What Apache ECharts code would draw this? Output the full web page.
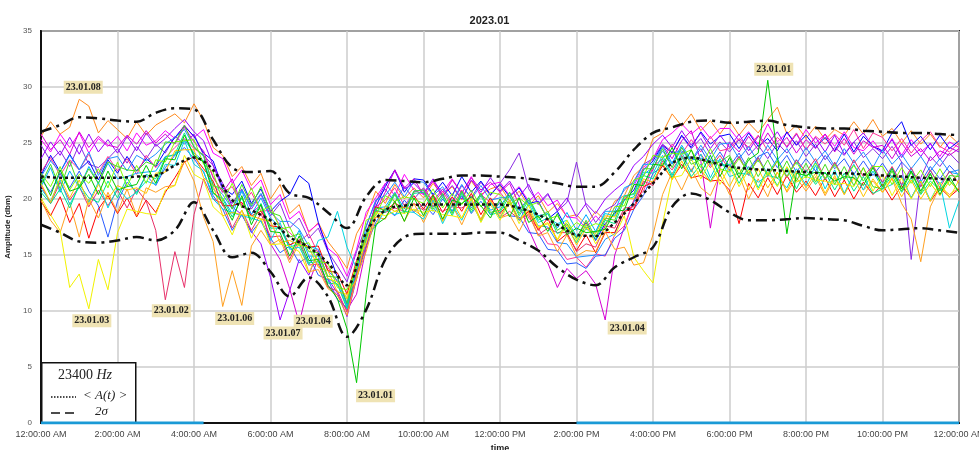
<!DOCTYPE html>
<html>
<head>
<meta charset="utf-8">
<script src="https://cdn.jsdelivr.net/npm/echarts@6/dist/echarts.min.js"></script>
<style>html,body{margin:0;padding:0;background:#fff}#chart{width:979px;height:450px}</style>
</head>
<body>
<div id="chart"></div>
<script>
// sampling grid: every 15 min for the daily traces, every 30 min for the statistics
var hours = [];
for (var i = 0; i <= 96; i++) hours.push(i / 4);
var halfHours = [];
for (var j = 0; j <= 48; j++) halfHours.push(j / 2);

var tickHours = [0, 2, 4, 6, 8, 10, 12, 14, 16, 18, 20, 22, 24];
var tickLabels = ['12:00:00 AM', '2:00:00 AM', '4:00:00 AM', '6:00:00 AM', '8:00:00 AM', '10:00:00 AM',
  '12:00:00 PM', '2:00:00 PM', '4:00:00 PM', '6:00:00 PM', '8:00:00 PM', '10:00:00 PM', '12:00:00 AM'];

// daily amplitude traces (dbm), one row = 2 hours
var d0108 = [
  25.6, 26.9, 25.8, 26.4, 28.9, 28.3, 25.9, 27.0,
  26.2, 25.4, 26.9, 25.7, 26.6, 27.1, 27.6, 26.8,
  28.5, 27.0, 24.6, 23.9, 22.0, 22.9, 21.2, 22.3,
  20.0, 21.3, 18.7, 19.5, 17.0, 17.9, 16.2, 15.1,
  13.8, 16.9, 18.4, 20.7, 19.6, 21.3, 20.0, 21.0,
  20.1, 21.4, 20.3, 21.1, 19.9, 21.6, 20.4, 20.9,
  21.2, 19.8, 20.7, 19.4, 20.3, 18.8, 19.6, 18.4,
  18.6, 17.7, 18.9, 18.1, 19.8, 20.3, 22.1, 22.9,
  25.4, 25.9, 27.6, 26.5, 27.6, 26.1, 27.0, 25.8,
  27.0, 25.7, 26.8, 25.9, 27.1, 28.2, 25.8, 26.6,
  25.4, 26.5, 25.3, 26.2, 25.7, 26.9, 25.8, 27.1,
  25.6, 26.3, 25.0, 26.1, 24.9, 25.8, 24.6, 25.7,
  24.9];
var d0109 = [
  25.3, 24.2, 25.8, 24.6, 25.9, 24.1, 25.4, 24.7,
  25.6, 24.3, 25.9, 24.8, 25.2, 26.1, 25.4, 26.6,
  25.5, 26.2, 24.1, 23.6, 21.4, 22.6, 20.8, 21.7,
  19.5, 20.4, 18.2, 18.9, 17.1, 17.8, 15.6, 14.9,
  13.1, 15.5, 18.8, 20.1, 21.4, 20.3, 22.2, 20.8,
  20.4, 21.6, 20.6, 21.8, 20.5, 22.0, 20.2, 21.3,
  21.5, 20.3, 21.1, 19.8, 20.6, 19.4, 19.9, 18.4,
  18.3, 17.4, 18.5, 17.6, 19.3, 19.9, 21.2, 22.8,
  23.6, 25.3, 25.9, 26.7, 25.8, 26.5, 25.4, 26.3,
  26.3, 25.2, 26.0, 24.9, 26.7, 25.1, 25.9, 24.8,
  26.2, 25.0, 25.8, 24.7, 26.0, 24.6, 24.3, 25.2,
  24.1, 25.4, 23.9, 25.3, 24.2, 24.9, 23.8, 25.1,
  24.6];
var d0110 = [
  24.8, 23.4, 24.3, 22.9, 24.9, 23.1, 22.8, 23.6,
  24.5, 23.2, 24.7, 23.6, 24.9, 24.1, 25.6, 24.9,
  25.8, 23.9, 23.0, 20.8, 19.6, 20.9, 19.1, 20.4,
  18.5, 19.6, 17.4, 18.3, 16.5, 17.4, 15.3, 14.0,
  12.6, 15.3, 17.6, 19.8, 20.9, 19.7, 21.1, 20.0,
  21.0, 19.8, 20.9, 19.6, 21.2, 20.1, 21.5, 20.3,
  21.4, 22.6, 24.1, 20.9, 19.6, 20.5, 18.9, 19.7,
  23.3, 19.4, 17.9, 19.0, 19.5, 20.8, 21.6, 23.1,
  23.6, 24.9, 24.2, 25.6, 24.5, 25.4, 24.0, 25.1,
  24.2, 25.3, 23.9, 24.8, 23.6, 25.0, 24.1, 25.2,
  23.8, 24.9, 23.5, 24.6, 23.9, 25.1, 23.7, 24.5,
  23.6, 24.7, 23.3, 14.6, 21.9, 23.8, 22.9, 24.1,
  23.2];
var d0111 = [
  22.1, 23.9, 22.4, 24.0, 22.6, 23.4, 21.7, 23.5,
  22.3, 23.8, 22.5, 23.6, 22.9, 24.3, 25.5, 26.5,
  25.6, 24.1, 23.4, 21.0, 20.4, 21.6, 19.6, 20.9,
  18.9, 19.8, 20.4, 22.1, 21.4, 17.9, 15.4, 13.0,
  10.6, 13.4, 17.0, 19.3, 21.1, 22.6, 20.6, 21.8,
  21.7, 20.4, 21.5, 20.3, 22.0, 20.6, 21.6, 20.4,
  21.3, 20.2, 21.0, 19.6, 19.8, 18.2, 18.9, 17.3,
  16.6, 17.9, 16.3, 17.8, 18.7, 19.9, 20.8, 22.6,
  23.4, 24.8, 24.1, 25.7, 24.6, 26.0, 24.9, 25.6,
  25.8, 24.5, 25.9, 24.7, 25.4, 24.3, 26.0, 24.8,
  25.7, 24.6, 25.5, 24.3, 25.8, 24.2, 25.6, 24.7,
  24.3, 25.9, 26.9, 24.8, 25.6, 24.4, 25.7, 24.5,
  25.2];
var d0107 = [
  23.6, 25.1, 23.9, 25.5, 24.0, 25.8, 24.2, 25.3,
  24.1, 25.6, 24.3, 25.9, 24.7, 25.4, 26.3, 27.1,
  26.0, 25.2, 23.0, 21.4, 19.3, 18.6, 17.1, 16.0,
  13.0, 9.2, 11.8, 14.6, 13.2, 15.4, 12.9, 11.6,
  9.5, 12.9, 16.4, 19.7, 21.3, 22.5, 20.9, 21.4,
  20.5, 21.8, 20.3, 21.2, 20.0, 21.7, 20.6, 21.9,
  20.7, 21.6, 20.2, 21.3, 19.5, 20.4, 19.0, 20.1,
  18.4, 19.6, 18.7, 20.0, 20.8, 21.5, 23.0, 23.8,
  24.9, 25.7, 24.6, 26.1, 24.8, 25.9, 24.5, 25.7,
  24.6, 25.8, 24.3, 25.6, 24.9, 26.0, 24.6, 25.8,
  24.4, 25.5, 24.2, 25.7, 24.0, 25.1, 25.9, 24.7,
  24.1, 25.3, 23.7, 24.9, 23.8, 25.0, 23.5, 24.6,
  24.2];
var d0104 = [
  25.8, 24.4, 25.3, 24.0, 26.0, 24.6, 25.6, 24.8,
  24.6, 25.7, 24.9, 26.1, 25.0, 25.8, 24.9, 26.4,
  25.1, 24.3, 21.9, 20.6, 21.8, 19.4, 18.7, 19.5,
  16.0, 14.6, 12.0, 8.9, 12.5, 14.7, 12.3, 11.4,
  10.1, 11.5, 15.6, 18.9, 20.6, 22.6, 21.0, 21.8,
  20.4, 21.6, 20.1, 21.7, 20.5, 21.9, 20.8, 21.5,
  20.6, 21.4, 19.5, 17.3, 15.4, 14.3, 12.1, 13.8,
  12.9, 13.6, 12.4, 9.2, 15.0, 17.5, 19.9, 21.4,
  22.6, 24.8, 23.6, 25.2, 26.1, 23.4, 17.4, 22.8,
  25.1, 24.2, 25.6, 24.4, 25.9, 24.6, 25.5, 24.1,
  25.3, 24.5, 25.8, 24.2, 25.4, 24.0, 25.2, 24.6,
  24.8, 23.6, 25.0, 23.8, 24.5, 23.4, 24.3, 23.9,
  24.5];
var d0118 = [
  22.4, 23.7, 22.1, 23.5, 22.6, 24.0, 22.3, 23.8,
  22.5, 23.6, 22.2, 23.9, 22.8, 23.7, 24.6, 25.4,
  24.5, 23.9, 22.0, 20.6, 21.1, 19.4, 20.6, 18.9,
  19.0, 17.6, 17.0, 16.2, 16.9, 15.1, 13.9, 12.6,
  11.1, 13.8, 16.7, 19.3, 19.9, 21.0, 19.4, 20.6,
  20.9, 19.6, 20.7, 19.3, 20.8, 19.4, 20.4, 19.7,
  20.6, 19.5, 20.1, 18.3, 17.4, 16.0, 15.9, 14.6,
  14.8, 13.9, 15.1, 14.9, 16.8, 17.6, 19.9, 20.7,
  22.9, 23.6, 24.9, 24.0, 25.3, 24.2, 25.6, 24.3,
  24.5, 25.4, 24.6, 25.7, 24.3, 25.5, 24.7, 25.9,
  24.4, 25.6, 24.9, 25.8, 24.8, 26.2, 24.5, 25.9,
  25.5, 24.3, 25.4, 24.1, 25.2, 26.0, 24.7, 24.2,
  25.0];
var d0112 = [
  21.8, 20.6, 22.3, 21.0, 22.5, 20.7, 19.4, 16.6,
  19.8, 21.5, 20.6, 22.1, 21.2, 22.8, 23.9, 24.6,
  23.6, 22.4, 20.3, 19.1, 17.2, 18.6, 17.0, 18.1,
  16.5, 15.2, 15.8, 14.3, 14.9, 13.2, 12.8, 11.0,
  10.3, 12.9, 15.8, 17.9, 19.2, 18.5, 19.9, 18.8,
  19.6, 18.6, 20.0, 18.9, 20.3, 18.7, 19.8, 18.6,
  19.7, 18.5, 18.4, 17.0, 16.9, 15.5, 15.4, 14.2,
  14.3, 13.8, 14.9, 15.0, 16.5, 17.2, 19.1, 20.3,
  22.3, 22.9, 24.1, 24.3, 23.4, 24.5, 23.0, 24.2,
  22.9, 24.1, 22.6, 23.8, 24.2, 22.8, 23.9, 22.4,
  23.6, 22.5, 23.9, 22.7, 23.6, 22.2, 23.4, 22.1,
  23.2, 21.9, 23.3, 22.4, 21.5, 22.9, 21.8, 23.0,
  22.1];
var d0117 = [
  22.0, 23.4, 22.4, 23.9, 22.6, 24.2, 22.1, 23.6,
  23.8, 22.5, 23.9, 23.4, 24.0, 24.9, 25.5, 26.2,
  24.7, 23.8, 21.3, 20.4, 19.1, 20.8, 19.3, 20.5,
  18.8, 18.0, 18.0, 17.3, 15.8, 15.5, 13.6, 12.7,
  10.6, 14.2, 17.5, 19.9, 20.3, 21.5, 20.2, 21.6,
  21.5, 20.3, 21.1, 19.8, 21.3, 20.0, 21.2, 19.9,
  20.1, 20.2, 19.0, 19.0, 17.6, 17.5, 16.1, 16.0,
  14.8, 14.9, 15.0, 16.4, 16.9, 18.9, 19.7, 22.2,
  22.8, 24.3, 23.1, 24.6, 23.4, 24.8, 23.5, 24.9,
  25.0, 23.6, 24.7, 23.3, 24.8, 23.5, 24.5, 23.1,
  24.6, 23.3, 24.3, 22.9, 24.5, 23.2, 24.2, 22.8,
  24.4, 23.1, 24.0, 22.7, 23.8, 22.5, 23.6, 22.4,
  22.6];
var d0120 = [
  21.1, 22.8, 20.6, 22.5, 21.0, 22.9, 21.4, 23.2,
  21.8, 22.0, 22.3, 22.4, 22.5, 23.8, 23.9, 25.3,
  24.1, 23.4, 20.9, 20.1, 18.7, 20.7, 18.6, 20.1,
  18.3, 17.5, 15.6, 17.2, 14.9, 14.9, 12.9, 12.4,
  10.4, 13.4, 16.2, 19.2, 19.3, 20.6, 19.1, 20.7,
  20.8, 19.3, 20.4, 18.9, 20.7, 19.2, 20.5, 19.0,
  19.3, 20.6, 19.0, 20.1, 18.5, 18.7, 17.4, 18.8,
  17.2, 18.6, 17.1, 18.9, 18.9, 21.0, 21.4, 23.1,
  23.1, 24.7, 23.2, 24.8, 23.5, 23.6, 23.4, 23.4,
  22.5, 23.8, 22.3, 23.7, 22.2, 23.6, 22.0, 23.5,
  21.9, 23.3, 21.7, 23.2, 21.8, 23.1, 21.6, 22.9,
  21.4, 22.8, 21.2, 22.7, 21.1, 22.5, 21.3, 22.4,
  22.2];
var d0114 = [
  19.8, 18.5, 20.2, 17.9, 19.6, 16.5, 19.1, 20.3,
  18.7, 20.1, 18.4, 19.9, 18.8, 20.6, 21.9, 23.3,
  23.8, 22.7, 21.6, 19.4, 19.4, 19.7, 18.5, 18.9,
  17.6, 17.5, 15.9, 16.3, 15.7, 15.8, 13.6, 13.4,
  11.5, 14.5, 16.8, 19.3, 19.0, 19.6, 19.2, 20.3,
  19.1, 20.4, 18.8, 20.2, 18.9, 20.5, 18.6, 20.1,
  18.7, 19.7, 18.1, 18.9, 17.2, 18.3, 16.2, 16.9,
  15.4, 16.8, 15.2, 17.0, 17.0, 18.9, 19.1, 21.1,
  21.5, 23.0, 21.8, 23.1, 21.9, 22.1, 21.6, 21.7,
  20.8, 17.8, 21.4, 20.1, 21.9, 20.4, 22.1, 20.6,
  21.6, 20.3, 21.9, 20.2, 21.7, 20.0, 21.5, 20.4,
  21.3, 19.9, 21.2, 20.1, 21.6, 19.8, 21.0, 20.2,
  20.9];
var d0102 = [
  21.2, 19.6, 21.5, 19.9, 21.1, 19.3, 20.8, 19.4,
  20.8, 19.2, 20.9, 19.8, 17.2, 11.0, 15.3, 12.1,
  18.6, 21.8, 20.0, 19.6, 17.4, 19.0, 17.2, 18.7,
  16.6, 16.7, 14.6, 16.4, 14.1, 14.2, 12.1, 11.8,
  9.9, 13.3, 15.8, 18.9, 18.8, 19.2, 18.9, 19.6,
  19.0, 19.4, 18.9, 19.3, 19.2, 19.7, 18.1, 19.9,
  18.3, 18.9, 18.2, 18.6, 16.8, 17.4, 17.0, 17.0,
  15.3, 16.0, 15.7, 17.6, 17.4, 19.2, 19.3, 21.6,
  21.2, 23.4, 22.6, 23.9, 22.5, 24.0, 22.8, 23.9,
  22.6, 23.8, 22.1, 23.7, 22.0, 23.4, 21.9, 23.5,
  22.4, 23.6, 21.8, 23.3, 21.7, 23.5, 22.0, 23.0,
  21.5, 22.9, 21.3, 22.8, 21.1, 22.6, 21.0, 22.5,
  21.4];
var d0106 = [
  19.9, 18.1, 17.0, 19.7, 16.6, 20.0, 18.3, 20.6,
  18.8, 20.9, 18.5, 21.0, 20.6, 21.1, 21.2, 23.4,
  21.6, 18.4, 16.2, 10.4, 13.6, 10.5, 15.8, 17.2,
  15.9, 16.4, 14.3, 16.1, 13.5, 13.7, 12.0, 11.4,
  9.6, 13.0, 15.3, 18.4, 18.2, 19.8, 18.0, 19.6,
  17.9, 19.7, 18.1, 19.5, 17.7, 19.6, 18.2, 19.9,
  18.3, 18.6, 17.1, 18.8, 16.7, 17.0, 15.3, 16.8,
  14.9, 15.4, 15.3, 17.1, 15.5, 15.7, 14.1, 14.3,
  16.8, 20.4, 22.4, 20.8, 22.7, 21.0, 20.3, 22.2,
  20.4, 22.1, 20.0, 21.8, 20.2, 22.4, 20.6, 21.9,
  20.7, 22.0, 20.3, 21.9, 20.4, 22.2, 20.8, 21.6,
  20.6, 21.8, 19.6, 18.2, 14.4, 19.3, 21.1, 20.4,
  21.0];
var d0113 = [
  20.9, 19.8, 21.7, 19.5, 21.1, 19.7, 21.5, 19.2,
  21.0, 20.0, 20.6, 21.6, 21.3, 23.1, 23.0, 25.2,
  23.1, 22.5, 20.0, 19.1, 18.8, 18.5, 18.3, 18.0,
  16.3, 17.9, 15.5, 15.7, 14.1, 16.3, 16.6, 18.9,
  15.7, 13.8, 17.0, 17.5, 19.1, 18.6, 18.9, 18.8,
  18.2, 19.9, 17.8, 19.5, 18.1, 19.9, 18.0, 19.7,
  18.3, 19.9, 18.1, 19.6, 17.9, 18.3, 17.8, 18.1,
  16.7, 17.3, 17.0, 18.7, 18.5, 20.3, 20.4, 22.4,
  22.3, 23.9, 22.1, 24.2, 22.4, 24.0, 21.9, 23.6,
  22.0, 22.3, 22.2, 21.5, 22.1, 21.9, 21.0, 22.7,
  21.2, 23.0, 20.9, 22.6, 20.5, 22.3, 20.8, 22.5,
  20.9, 21.3, 22.1, 20.1, 21.7, 19.9, 21.5, 17.4,
  19.8];
var d0116 = [
  20.6, 19.6, 20.9, 19.2, 21.3, 20.1, 19.7, 21.6,
  20.1, 21.9, 20.4, 22.2, 21.8, 23.7, 24.0, 25.9,
  23.7, 23.4, 20.5, 20.0, 18.4, 20.1, 18.1, 19.6,
  17.4, 17.4, 15.7, 16.0, 14.3, 14.4, 12.5, 12.4,
  10.2, 14.0, 16.4, 19.0, 18.8, 20.4, 18.7, 20.5,
  20.6, 18.9, 20.2, 18.5, 20.5, 18.8, 20.3, 18.6,
  18.8, 20.3, 18.5, 19.9, 18.1, 18.7, 16.9, 17.5,
  16.1, 17.7, 16.4, 18.1, 17.8, 19.9, 20.2, 22.1,
  21.8, 23.6, 21.9, 23.8, 22.0, 23.1, 21.6, 23.0,
  23.1, 21.4, 22.9, 21.0, 22.7, 21.2, 22.8, 20.9,
  22.6, 21.3, 22.4, 20.8, 22.3, 20.7, 22.0, 20.5,
  20.9, 22.1, 20.6, 21.9, 20.4, 21.6, 20.8, 21.7,
  20.6];
var d0119 = [
  21.4, 19.7, 21.9, 20.1, 21.7, 19.5, 21.3, 20.0,
  21.2, 20.8, 21.0, 20.5, 22.3, 22.4, 24.3, 24.4,
  24.4, 21.9, 21.2, 18.5, 18.8, 18.6, 18.5, 18.2,
  18.0, 16.1, 16.3, 15.9, 15.7, 13.9, 13.6, 11.7,
  11.5, 12.8, 16.8, 17.6, 19.4, 18.9, 19.3, 19.0,
  18.4, 20.1, 18.0, 19.8, 18.3, 20.1, 18.1, 19.9,
  18.4, 19.9, 18.2, 19.0, 17.4, 17.8, 16.3, 17.7,
  15.9, 17.4, 16.9, 18.5, 18.4, 20.1, 20.0, 21.8,
  21.5, 23.2, 21.7, 23.4, 21.8, 22.6, 21.5, 22.7,
  21.1, 22.8, 20.8, 22.7, 21.0, 22.4, 20.7, 22.5,
  21.0, 22.3, 20.5, 22.1, 20.4, 21.9, 20.2, 21.8,
  20.6, 21.9, 20.2, 21.7, 20.0, 21.4, 20.3, 21.6,
  20.7];
var d0103 = [
  20.1, 18.6, 17.2, 12.1, 13.3, 10.2, 14.6, 11.9,
  17.0, 19.1, 18.9, 18.7, 18.6, 20.8, 21.2, 23.9,
  22.2, 21.7, 19.3, 18.5, 16.8, 19.0, 16.5, 18.3,
  15.9, 16.0, 15.8, 15.3, 13.4, 15.2, 12.9, 12.6,
  11.1, 14.3, 16.1, 18.8, 18.5, 18.9, 18.7, 19.1,
  18.8, 19.0, 18.6, 18.5, 18.3, 20.0, 17.9, 19.5,
  18.1, 19.7, 17.8, 19.4, 17.5, 17.9, 16.4, 18.1,
  16.3, 17.8, 16.0, 17.4, 16.7, 18.5, 14.8, 13.6,
  12.5, 17.8, 21.9, 22.1, 23.6, 21.8, 23.4, 21.3,
  22.9, 21.1, 22.6, 20.8, 22.4, 21.1, 22.9, 21.5,
  22.0, 21.7, 21.6, 21.3, 21.4, 21.1, 22.8, 20.7,
  22.2, 20.3, 21.9, 20.0, 21.6, 19.8, 21.5, 20.1,
  21.7];
var d0115 = [
  22.3, 21.1, 22.9, 20.8, 22.2, 21.4, 22.7, 21.0,
  23.3, 21.1, 23.0, 21.4, 23.5, 23.3, 25.1, 25.2,
  25.3, 23.1, 22.4, 19.8, 21.4, 19.2, 21.0, 18.9,
  19.4, 17.3, 17.5, 15.8, 16.1, 14.4, 14.3, 12.1,
  11.9, 13.7, 18.1, 18.5, 20.3, 19.8, 20.2, 20.0,
  19.6, 20.9, 19.2, 20.5, 19.5, 20.8, 19.3, 20.6,
  20.4, 19.5, 20.1, 19.4, 19.7, 18.2, 18.5, 17.1,
  17.9, 17.4, 17.8, 17.6, 19.3, 19.4, 21.7, 22.0,
  23.9, 23.7, 24.1, 24.0, 24.4, 22.8, 24.5, 22.7,
  22.4, 23.6, 22.3, 23.5, 22.1, 23.4, 22.0, 23.3,
  21.9, 23.2, 21.8, 23.1, 21.7, 23.0, 21.6, 22.9,
  22.9, 21.3, 22.8, 21.4, 22.6, 21.1, 22.7, 21.2,
  22.3];
var d0121 = [
  21.3, 23.1, 20.9, 23.4, 21.1, 22.7, 21.4, 23.3,
  22.9, 22.6, 22.5, 23.3, 23.0, 25.1, 25.0, 26.6,
  24.6, 23.9, 21.2, 20.9, 19.1, 21.3, 19.4, 21.1,
  18.8, 18.5, 16.6, 16.9, 15.3, 15.2, 13.1, 13.0,
  10.7, 14.2, 16.7, 19.2, 19.0, 20.5, 18.8, 20.7,
  20.8, 19.1, 20.5, 18.7, 20.7, 19.0, 20.5, 18.8,
  19.0, 20.6, 18.7, 20.1, 18.3, 18.9, 17.2, 17.8,
  16.5, 18.1, 16.6, 18.3, 18.1, 20.2, 20.5, 22.7,
  22.7, 24.5, 22.8, 24.6, 23.1, 23.5, 23.2, 23.3,
  23.9, 22.2, 23.7, 22.0, 23.5, 21.8, 23.4, 21.6,
  23.2, 21.5, 23.1, 21.3, 22.9, 21.2, 22.8, 21.1,
  20.9, 22.5, 20.7, 22.4, 20.5, 22.2, 20.7, 22.1,
  22.0];
var d0101 = [
  22.1, 20.3, 22.6, 20.7, 21.0, 22.2, 20.4, 22.5,
  20.8, 21.1, 21.3, 23.0, 21.4, 23.6, 23.5, 25.7,
  23.9, 23.3, 20.6, 19.7, 18.1, 20.3, 17.7, 19.5,
  17.1, 17.0, 14.9, 16.7, 14.5, 14.6, 12.3, 11.1,
  8.4, 3.6, 11.5, 17.7, 18.3, 19.8, 18.0, 20.1,
  18.5, 20.3, 18.2, 19.9, 19.6, 20.2, 19.4, 18.3,
  20.0, 18.4, 20.1, 17.9, 18.5, 17.1, 18.7, 16.8,
  17.4, 17.0, 17.1, 17.3, 18.9, 19.0, 21.3, 21.2,
  23.1, 23.0, 24.6, 22.7, 24.4, 22.3, 23.9, 22.0,
  23.7, 21.9, 23.5, 24.1, 30.6, 23.9, 16.9, 22.3,
  22.1, 22.4, 22.3, 21.6, 22.0, 21.9, 21.2, 22.8,
  21.1, 22.7, 20.9, 22.5, 20.7, 22.3, 20.4, 22.0,
  20.6];

// statistics, every 30 min: mean <A(t)> and the 2 sigma band
var meanA = [22.0, 21.9, 21.9, 21.9, 21.9, 22.0, 22.1, 23.0, 23.7, 22.6, 19.9, 19.0, 18.1, 16.6, 15.7, 14.3, 12.3,
  17.0, 19.0, 19.4, 19.5, 19.5, 19.5, 19.5, 19.5, 19.2, 18.6, 17.7, 16.8, 16.7, 17.9, 19.6, 21.4,
  23.2, 23.7, 23.3, 22.9, 22.7, 22.6, 22.5, 22.4, 22.3, 22.3, 22.2, 22.1, 22.0, 21.9, 21.8, 21.7];
var upper2s = [26.0, 26.6, 27.3, 27.2, 27.0, 26.9, 27.7, 28.1, 28.0, 25.3, 22.8, 22.4, 22.5, 20.5, 20.1, 18.8, 17.4,
  20.2, 21.7, 21.6, 21.5, 21.8, 22.1, 22.1, 22.0, 21.9, 21.7, 21.4, 21.1, 21.1, 22.4, 24.4, 25.9,
  26.4, 26.9, 27.0, 26.8, 26.9, 27.0, 26.6, 26.4, 26.3, 26.3, 26.1, 26.0, 25.9, 25.9, 25.8, 25.7];
var lower2s = [17.7, 17.0, 16.2, 16.1, 16.3, 16.6, 16.3, 17.2, 19.7, 17.2, 14.8, 15.2, 13.5, 11.3, 13.0, 11.3, 7.7,
  10.1, 14.6, 16.6, 16.9, 16.9, 16.9, 17.0, 17.0, 16.3, 15.4, 13.9, 12.8, 12.3, 13.9, 14.8, 15.7,
  19.3, 20.5, 19.9, 18.8, 18.1, 18.1, 18.2, 18.3, 18.2, 18.1, 17.6, 17.2, 17.3, 17.4, 17.2, 17.0];

// stretches of the time axis drawn in blue (hours)
var axisHighlight = [[0, 4.25], [14, 24]];

// labelled extremes: [day, hour]
var notes = [['23.01.08', 1.0], ['23.01.03', 1.25], ['23.01.02', 3.25], ['23.01.06', 4.75],
  ['23.01.07', 6.25], ['23.01.04', 6.75], ['23.01.01', 8.25], ['23.01.04', 14.75], ['23.01.01', 19.0]];
var noteOffsets = [[4, -12], [3, 12], [6, 11], [12, 12], [3, 13], [14, -2], [19, 13], [22, 8], [6, -11]];

// draw order (later on top) and colours
var days = [
  ['23.01.08', d0108, '#ff8a1e'], ['23.01.09', d0109, '#ff00ff'], ['23.01.10', d0110, '#8a2be2'],
  ['23.01.11', d0111, '#0000ff'], ['23.01.07', d0107, '#9a00ff'], ['23.01.04', d0104, '#d400d4'],
  ['23.01.18', d0118, '#ff3399'], ['23.01.12', d0112, '#2a5cff'], ['23.01.17', d0117, '#1e90ff'],
  ['23.01.20', d0120, '#00aaff'], ['23.01.14', d0114, '#ff0000'], ['23.01.02', d0102, '#e8306a'],
  ['23.01.06', d0106, '#ffa020'], ['23.01.13', d0113, '#00d5e0'], ['23.01.16', d0116, '#00e68a'],
  ['23.01.19', d0119, '#ffc400'], ['23.01.03', d0103, '#f2f200'], ['23.01.15', d0115, '#80ff00'],
  ['23.01.21', d0121, '#44dd22'], ['23.01.01', d0101, '#00c800']
];

var series = [];
days.forEach(function (d) {
  var pts = d[1].map(function (v, k) { return [hours[k], v]; });
  var marks = [];
  notes.forEach(function (n, k) {
    if (n[0] !== d[0]) return;
    var idx = hours.indexOf(n[1]);
    marks.push({
      coord: [n[1], d[1][idx]],
      label: { offset: noteOffsets[k] }
    });
  });
  series.push({
    name: d[0], type: 'line', data: pts, showSymbol: false, silent: true,
    lineStyle: { width: 1, color: d[2] }, itemStyle: { color: d[2] }, z: 2,
    markPoint: marks.length ? {
      symbol: 'circle', symbolSize: 1, itemStyle: { color: 'rgba(0,0,0,0)' }, z: 20,
      label: {
        show: true, position: 'inside', formatter: d[0], color: '#222',
        fontFamily: 'Liberation Serif', fontWeight: 'bold', fontSize: 10,
        backgroundColor: '#efe3b4', padding: [2, 2, 1, 2]
      },
      data: marks
    } : undefined
  });
});

function statLine(vals, dash, w) {
  return {
    type: 'line', data: vals.map(function (v, k) { return [halfHours[k], v]; }),
    showSymbol: false, silent: true, smooth: 0.35, z: 10,
    lineStyle: { color: '#111', width: w, type: dash }
  };
}
series.push(statLine(upper2s, [11, 5, 3, 5], 2.5));
series.push(statLine(lower2s, [11, 5, 3, 5], 2.5));
series.push(statLine(meanA, [3, 3], 2.5));

axisHighlight.forEach(function (r) {
  series.push({
    type: 'line', data: [[r[0], 0], [r[1], 0]], showSymbol: false, silent: true, z: 60,
    lineStyle: { color: '#1a9ad6', width: 3 }
  });
});

var chart = echarts.init(document.getElementById('chart'));
chart.setOption({
  animation: false,
  backgroundColor: '#fff',
  textStyle: { fontFamily: 'Liberation Sans' },
  title: {
    text: '2023.01', left: 'center', top: 10,
    textStyle: { fontSize: 11, fontWeight: 'bold', color: '#222', fontFamily: 'Liberation Sans' }
  },
  grid: {
    left: 41, right: 20, top: 31, bottom: 27, containLabel: false, outerBoundsMode: 'none',
    show: true, borderColor: '#222', borderWidth: 2
  },
  xAxis: {
    type: 'value', min: 0, max: 24, interval: 2,
    name: 'time', nameLocation: 'middle', nameGap: 15,
    nameTextStyle: { fontSize: 9, fontWeight: 'bold', color: '#222' },
    axisLine: { lineStyle: { color: '#111', width: 2 } },
    axisTick: { show: false },
    axisLabel: {
      fontSize: 9, color: '#444', margin: 7, showMaxLabel: true, hideOverlap: false,
      formatter: function (v) { var k = tickHours.indexOf(v); return k < 0 ? '' : tickLabels[k]; }
    },
    splitLine: { show: true, lineStyle: { color: '#cdcdcd', width: 1.5 } }
  },
  yAxis: {
    type: 'value', min: 0, max: 35, interval: 5,
    name: 'Amplitude (dbm)', nameLocation: 'middle', nameGap: 24,
    nameTextStyle: { fontSize: 8, fontWeight: 'bold', color: '#222' },
    axisLine: { show: true, lineStyle: { color: '#111', width: 2 } },
    axisTick: { show: false },
    axisLabel: { fontSize: 8, color: '#555', margin: 9 },
    splitLine: { show: true, lineStyle: { color: '#cdcdcd', width: 1.5 } }
  },
  graphic: [
    { type: 'rect', left: 41, top: 362, z: 50, shape: { width: 94, height: 60 },
      style: { fill: '#fff', stroke: '#111', lineWidth: 1.5 } },
    { type: 'text', left: 58, top: 368, z: 51,
      style: { text: '23400 {i|Hz}', font: '14px "Liberation Serif"', fill: '#222',
        rich: { i: { fontStyle: 'italic', fontSize: 14, fontFamily: 'Liberation Serif' } } } },
    { type: 'line', z: 51, shape: { x1: 51, y1: 397, x2: 76, y2: 397 },
      style: { stroke: '#111', lineWidth: 1.5, lineDash: [1.5, 1.5] } },
    { type: 'text', left: 83, top: 389, z: 51,
      style: { text: '< A(t) >', font: 'italic 13px "Liberation Serif"', fill: '#222' } },
    { type: 'line', z: 51, shape: { x1: 51, y1: 413, x2: 77, y2: 413 },
      style: { stroke: '#111', lineWidth: 1.5, lineDash: [9, 5] } },
    { type: 'text', left: 95, top: 405, z: 51,
      style: { text: '2σ', font: 'italic 13px "Liberation Serif"', fill: '#222' } }
  ],
  series: series
});
</script>
</body>
</html>
